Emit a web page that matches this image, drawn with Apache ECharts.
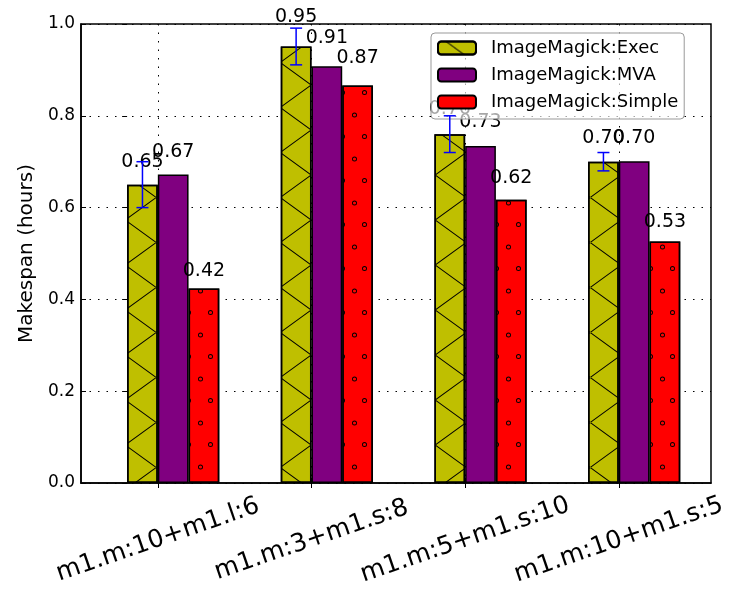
<!DOCTYPE html>
<html lang="en">
<head>
<meta charset="UTF-8">
<title>Makespan</title>
<style>
    * { padding: 0; margin: 0; }
    #main { width: 734px; height: 590px; background: #fff; }
</style>
<script src="https://cdn.jsdelivr.net/npm/echarts@6/dist/echarts.min.js"></script>
</head>
<body>
<div id="main"></div>
<script>
    // data
    var categories = ['m1.m:10+m1.l:6', 'm1.m:3+m1.s:8', 'm1.m:5+m1.s:10', 'm1.m:10+m1.s:5'];
    var seriesNames = ['ImageMagick:Exec', 'ImageMagick:MVA', 'ImageMagick:Simple'];
    var execValues = [0.65, 0.951, 0.76, 0.70];
    var execErrors = [0.05, 0.04, 0.04, 0.02];
    var mvaValues = [0.672, 0.908, 0.734, 0.701];
    var simpleValues = [0.424, 0.866, 0.617, 0.526];
    var yTicks = [0, 0.2, 0.4, 0.6, 0.8, 1.0];

    var barW = 0.2;      // bar width in axis units (like matplotlib width)
    var plotH = 459;     // grid height in px, for the 1.05*h label offset
    var xTickPos = categories.map(function (c, i) { return i + barW; });

    function barData(values, k) {
        return values.map(function (v, i) {
            return {
                value: [i + k * barW + barW / 2, v],
                label: { distance: v * 0.05 * plotH - 2 }
            };
        });
    }

    // --- hatch patterns (decal symbols) ---
    // diagonal strip in a 62x45 tile, wrapping at the right edge
    function strip(x0, flip) {
        var k = 62 / 45, a = x0 - 0.8, b = x0 + 0.8;
        var yA = (62 - a) / k, yB = (62 - b) / k;
        var polys = [
            [[a, 0], [b, 0], [62, yB], [62, yA]],
            [[0, yB], [b, 45], [a, 45], [0, yA]]
        ];
        return polys.map(function (pts) {
            return 'M' + pts.map(function (p) {
                var y = flip ? 45 - p[1] : p[1];
                return p[0].toFixed(2) + ',' + y.toFixed(2);
            }).join('L') + 'Z';
        }).join('');
    }
    function ring(cx, cy) {
        var R = 2.5, r = 1.6;
        return 'M' + (cx - R) + ',' + cy + 'A' + R + ',' + R + ' 0 1,0 ' + (cx + R) + ',' + cy +
            'A' + R + ',' + R + ' 0 1,0 ' + (cx - R) + ',' + cy + 'Z' +
            'M' + (cx - r) + ',' + cy + 'A' + r + ',' + r + ' 0 1,1 ' + (cx + r) + ',' + cy +
            'A' + r + ',' + r + ' 0 1,1 ' + (cx - r) + ',' + cy + 'Z';
    }

    // hatch 'x'
    var crossDecal = {
        symbol: 'path://' + strip(8.1, false) + strip(56.3, true),
        symbolSize: 1,
        symbolKeepAspect: false,
        dashArrayX: [62, 0],
        dashArrayY: [45, 0],
        color: '#000'
    };
    // hatch 'o'  (corner points only pin the tile box)
    var ringDecal = {
        symbol: 'path://M0,0L0.01,0Z' + ring(12.5, 4.5) + ring(2.5, 27) + 'M22,44L21.99,44Z',
        symbolSize: 1,
        symbolKeepAspect: false,
        dashArrayX: [22, 0],
        dashArrayY: [44, 0],
        color: '#000'
    };

    function barSeries(name, values, k, color, decal) {
        var itemStyle = { color: color, borderColor: '#000', borderWidth: 1.5 };
        if (decal) itemStyle.decal = decal;
        return {
            name: name,
            type: 'bar',
            data: barData(values, k),
            barWidth: '100%',
            barGap: '-100%',
            itemStyle: itemStyle,
            label: {
                show: true,
                position: 'top',
                fontSize: 19,
                color: '#000',
                formatter: function (p) { return p.value[1].toFixed(2); }
            }
        };
    }

    var errData = execValues.map(function (v, i) {
        return [i + barW / 2, v - execErrors[i], v + execErrors[i]];
    });

    var myChart = echarts.init(document.getElementById('main'));

    var dotted = { color: '#000', width: 1, type: [1.5, 7] };

    var option = {
        animation: false,
        backgroundColor: '#fff',
        textStyle: { fontFamily: 'DejaVu Sans', color: '#000' },
        grid: {
            left: 81, right: 23, top: 24, bottom: 107,
            show: true, borderColor: '#000', borderWidth: 1.5
        },
        legend: {
            data: [
                seriesNames[0],
                seriesNames[1],
                { name: seriesNames[2], itemStyle: { decal: 'none' } }
            ],
            orient: 'vertical',
            left: 431,
            top: 33,
            padding: [6, 6, 8, 6],
            itemGap: 9,
            itemWidth: 38,
            itemHeight: 13,
            backgroundColor: 'rgba(255,255,255,0.65)',
            borderColor: '#999',
            borderWidth: 1,
            borderRadius: 4,
            textStyle: { fontSize: 18, lineHeight: 18, color: '#000', padding: [0, 0, 0, 10] }
        },
        xAxis: [{
            type: 'value',
            min: -0.3,
            max: 3.8,
            position: 'bottom',
            axisLine: { show: true, onZero: false, lineStyle: { color: '#000', width: 1.5 } },
            axisTick: { show: true, inside: true, length: 5, customValues: xTickPos, lineStyle: { color: '#000' } },
            axisLabel: {
                customValues: xTickPos,
                formatter: function (v) { return categories[Math.round(v - barW)]; },
                rotate: 19,
                align: 'center',
                verticalAlign: 'middle',
                margin: 57,
                fontSize: 25,
                color: '#000'
            },
            splitLine: { show: true, lineStyle: dotted }
        }, {
            type: 'value',
            min: -0.3,
            max: 3.8,
            position: 'top',
            axisLine: { show: false },
            axisTick: { show: true, inside: true, length: 5, customValues: xTickPos, lineStyle: { color: '#000' } },
            axisLabel: { show: false },
            splitLine: { show: false }
        }],
        yAxis: [{
            type: 'value',
            min: 0,
            max: 1,
            name: 'Makespan (hours)',
            nameLocation: 'middle',
            nameGap: 38,
            nameTextStyle: { fontSize: 20, color: '#000' },
            axisLine: { show: true, onZero: false, lineStyle: { color: '#000', width: 1.5 } },
            axisTick: { show: true, inside: true, length: 5, customValues: yTicks, lineStyle: { color: '#000' } },
            axisLabel: {
                customValues: yTicks,
                fontSize: 17,
                color: '#000',
                margin: 6,
                formatter: function (v) { return v.toFixed(1); }
            },
            splitLine: { show: true, lineStyle: dotted }
        }, {
            type: 'value',
            min: 0,
            max: 1,
            position: 'right',
            axisLine: { show: false },
            axisTick: { show: true, inside: true, length: 5, customValues: yTicks, lineStyle: { color: '#000' } },
            axisLabel: { show: false },
            splitLine: { show: false }
        }],
        series: [
            barSeries(seriesNames[0], execValues, 0, '#bfbf00', crossDecal),
            barSeries(seriesNames[1], mvaValues, 1, '#800080'),
            barSeries(seriesNames[2], simpleValues, 2, '#ff0000', ringDecal),
            {
                type: 'custom',
                z: 5,
                data: errData,
                encode: { x: 0, y: [1, 2] },
                renderItem: function (params, api) {
                    var x = api.value(0);
                    var hi = api.coord([x, api.value(2)]);
                    var lo = api.coord([x, api.value(1)]);
                    var cap = 6;
                    var style = { stroke: '#0000ff', lineWidth: 1.5 };
                    return {
                        type: 'group',
                        children: [
                            { type: 'line', shape: { x1: hi[0], y1: hi[1], x2: lo[0], y2: lo[1] }, style: style },
                            { type: 'line', shape: { x1: hi[0] - cap, y1: hi[1], x2: hi[0] + cap, y2: hi[1] }, style: style },
                            { type: 'line', shape: { x1: lo[0] - cap, y1: lo[1], x2: lo[0] + cap, y2: lo[1] }, style: style }
                        ]
                    };
                }
            }
        ]
    };

    myChart.setOption(option);
</script>
</body>
</html>
